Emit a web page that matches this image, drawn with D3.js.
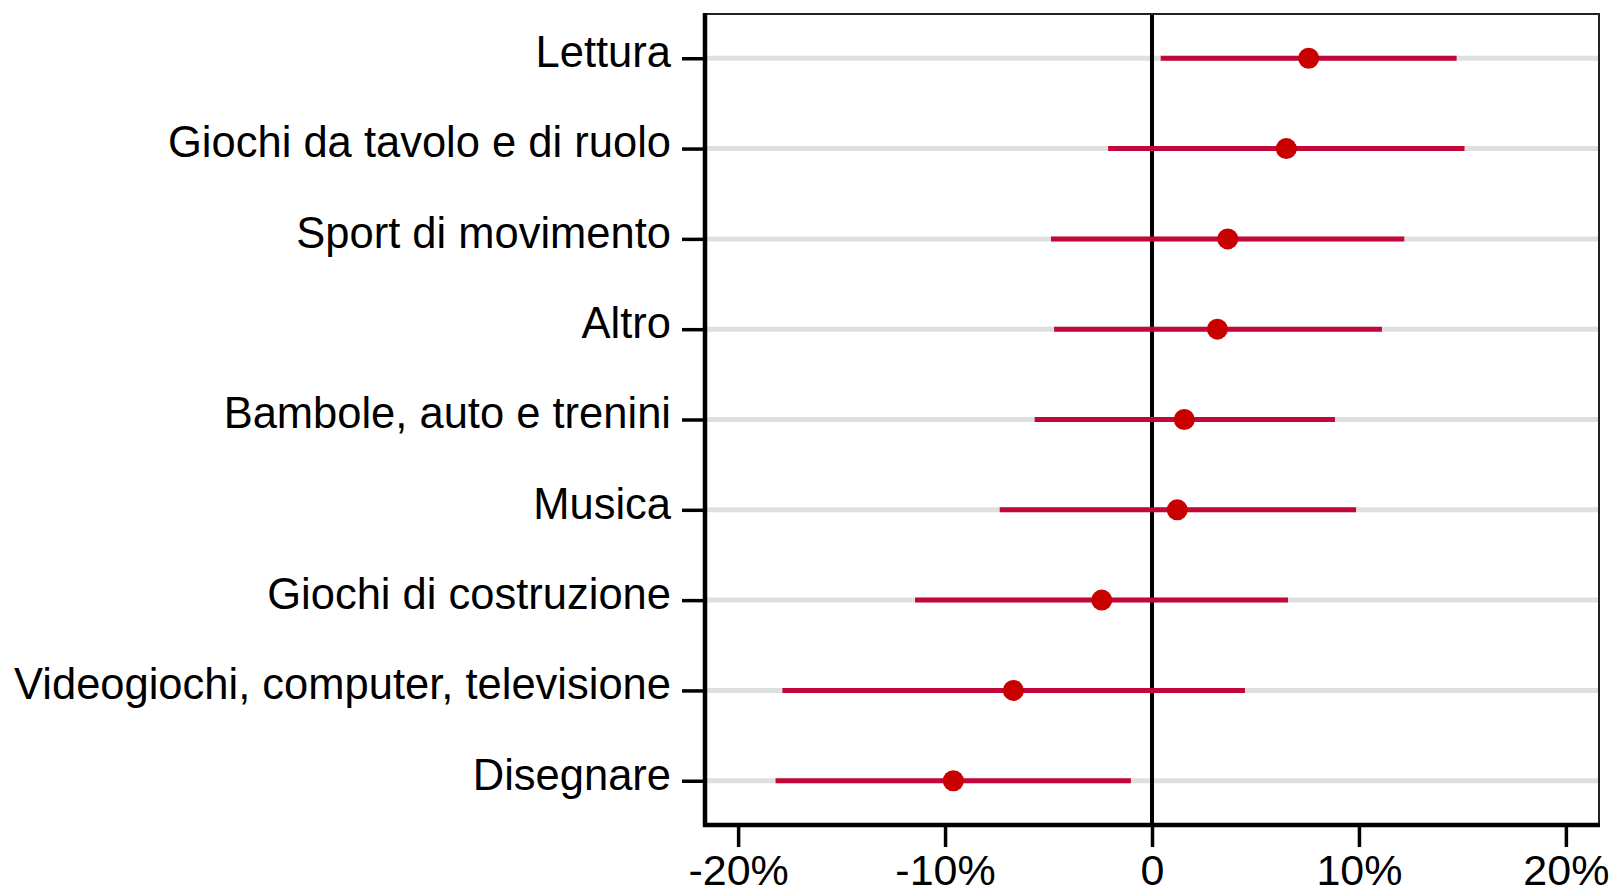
<!DOCTYPE html>
<html>
<head>
<meta charset="utf-8">
<script src="https://cdn.jsdelivr.net/npm/d3@7"></script>
<style>
	body { margin: 0; background: #fff; }
	svg text { font-family: "Liberation Sans", Arial, Helvetica, sans-serif; }
</style>
</head>
<body>
<svg width="1614" height="894"></svg>
<script>
// categories top to bottom, estimates and 95% bounds in percent
const categories = [
	"Lettura",
	"Giochi da tavolo e di ruolo",
	"Sport di movimento",
	"Altro",
	"Bambole, auto e trenini",
	"Musica",
	"Giochi di costruzione",
	"Videogiochi, computer, televisione",
	"Disegnare"
];
const estimate = [7.57, 6.49, 3.66, 3.16, 1.56, 1.22, -2.43, -6.70, -9.60];
const lower = [0.42, -2.12, -4.88, -4.73, -5.67, -7.36, -11.45, -17.86, -18.19];
const upper = [14.72, 15.10, 12.19, 11.11, 8.84, 9.86, 6.57, 4.49, -1.02];
const xTicks = [-20, -10, 0, 10, 20];

let svg = d3.select("svg");
let plotLeft = 705, plotRight = 1599, plotTop = 14, plotBottom = 825;

let x = d3.scaleLinear().domain([-21.6, 21.6]).range([plotLeft, plotRight]);
let y = d3.scalePoint().domain(categories).range([plotTop, plotBottom]).padding(0.49);

let rows = categories.map((c, i) => ({ name: c, est: estimate[i], lo: lower[i], hi: upper[i] }));

// grey guide lines per row
svg.append("g").selectAll("line")
	.data(rows)
	.enter().append("line")
		.attr("x1", plotLeft).attr("x2", plotRight)
		.attr("y1", d => y(d.name)).attr("y2", d => y(d.name))
		.attr("stroke", "#dfdfdf")
		.attr("stroke-width", 5);

// reference line at zero
svg.append("line")
	.attr("x1", x(0)).attr("x2", x(0))
	.attr("y1", plotTop).attr("y2", plotBottom)
	.attr("stroke", "#000")
	.attr("stroke-width", 4);

// confidence intervals
svg.append("g").selectAll("line")
	.data(rows)
	.enter().append("line")
		.attr("x1", d => x(d.lo)).attr("x2", d => x(d.hi))
		.attr("y1", d => y(d.name)).attr("y2", d => y(d.name))
		.attr("stroke", "#c20838")
		.attr("stroke-width", 5);

svg.append("g").selectAll("circle")
	.data(rows)
	.enter().append("circle")
		.attr("cx", d => x(d.est))
		.attr("cy", d => y(d.name))
		.attr("r", 10.5)
		.attr("fill", "#c80000");

// thin top and right frame
svg.append("path")
	.attr("d", `M${plotLeft},${plotTop}H${plotRight}V${plotBottom}`)
	.attr("fill", "none")
	.attr("stroke", "#222")
	.attr("stroke-width", 2);

let yAxis = svg.append("g")
	.attr("transform", `translate(${plotLeft},0)`)
	.call(d3.axisLeft(y).tickSize(23).tickSizeOuter(0).tickPadding(11));
yAxis.select(".domain").remove();
yAxis.append("line")
	.attr("x1", 0).attr("x2", 0)
	.attr("y1", plotTop - 1).attr("y2", plotBottom + 2)
	.attr("stroke", "#000").attr("stroke-width", 4.5);
yAxis.selectAll(".tick line").attr("stroke", "#000").attr("stroke-width", 3.5);
yAxis.selectAll(".tick text")
	.attr("fill", "#000")
	.attr("font-size", 43.5)
	.attr("dy", "0.19em");

let xAxis = svg.append("g")
	.attr("transform", `translate(0,${plotBottom})`)
	.call(d3.axisBottom(x).tickValues(xTicks).tickSize(22).tickSizeOuter(0).tickPadding(7.5)
		.tickFormat(d => d === 0 ? "0" : d + "%"));
xAxis.select(".domain").remove();
xAxis.append("line")
	.attr("x1", plotLeft - 2).attr("x2", plotRight + 1)
	.attr("y1", 0).attr("y2", 0)
	.attr("stroke", "#000").attr("stroke-width", 4.5);
xAxis.selectAll(".tick line").attr("stroke", "#000").attr("stroke-width", 3.5);
xAxis.selectAll(".tick text")
	.attr("fill", "#000")
	.attr("font-size", 43);
</script>
</body>
</html>
